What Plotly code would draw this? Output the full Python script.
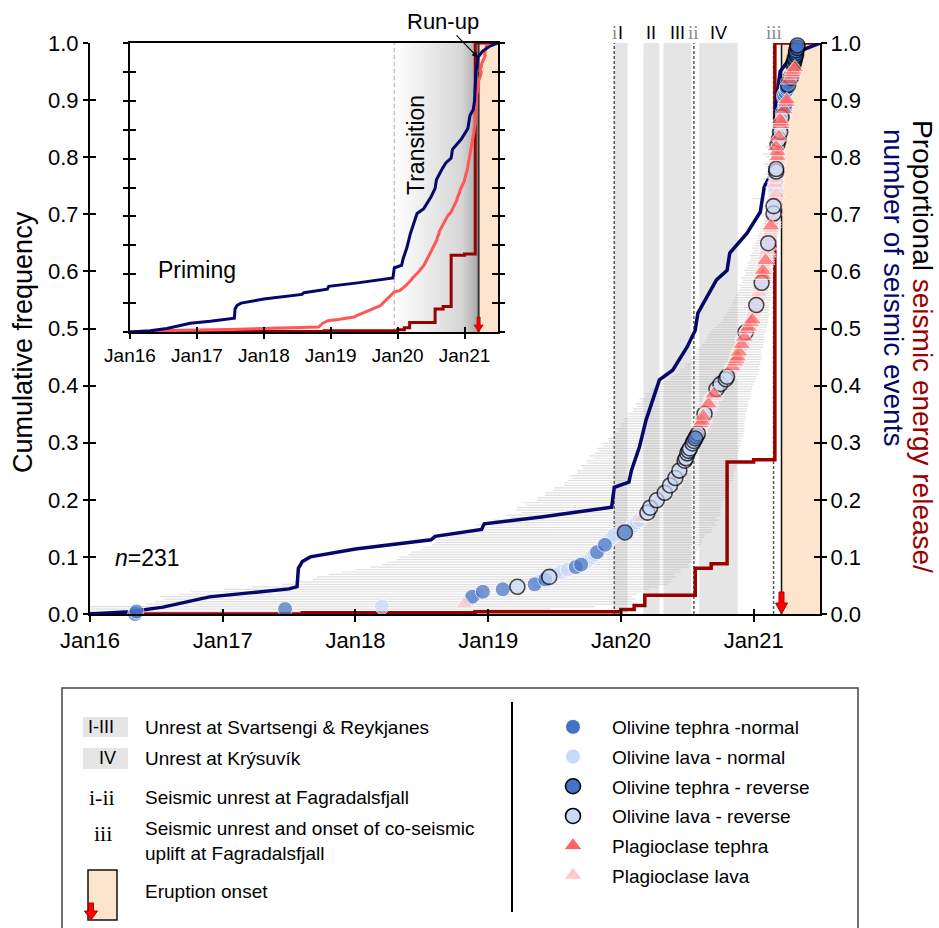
import plotly.graph_objects as go

W, H = 939, 928


def px(v):
    return v / W


def py(v):
    return 1 - v / H


SANS = "Liberation Sans, Arial, sans-serif"
SERIF = "Liberation Serif, Times New Roman, serif"

# ---------------- data ----------------
year_ticks = [2016, 2017, 2018, 2019, 2020, 2021]
year_labels = ["Jan16", "Jan17", "Jan18", "Jan19", "Jan20", "Jan21"]
x_start, x_end = 2016.0, 2021.5
freq_ticks = [0.0, 0.1, 0.2, 0.3, 0.4, 0.5, 0.6, 0.7, 0.8, 0.9, 1.0]

# proportional number of seismic events (navy)
seis_t = [2016.0, 2016.3, 2016.55, 2016.7, 2016.9, 2017.2, 2017.5, 2017.56, 2017.57, 2017.6,
          2017.66, 2018.0, 2018.57, 2018.6, 2018.95, 2018.97, 2019.4, 2019.93, 2019.95, 2020.06,
          2020.08, 2020.14, 2020.19, 2020.29, 2020.39, 2020.5, 2020.56, 2020.58, 2020.66, 2020.72,
          2020.8, 2020.82, 2020.95, 2021.05, 2021.08, 2021.13, 2021.15, 2021.17, 2021.2, 2021.27,
          2021.37, 2021.5]
seis_v = [0.0, 0.004, 0.012, 0.02, 0.03, 0.037, 0.044, 0.048, 0.08, 0.092,
          0.1, 0.114, 0.13, 0.136, 0.148, 0.158, 0.17, 0.187, 0.222, 0.231,
          0.252, 0.293, 0.34, 0.41, 0.427, 0.468, 0.497, 0.527, 0.562, 0.585,
          0.602, 0.632, 0.667, 0.704, 0.748, 0.77, 0.8, 0.9, 0.95, 0.972,
          0.988, 1.0]

# proportional seismic energy release (dark red, step line)
energy_t = [2016.0, 2017.6, 2018.9, 2020.0, 2020.1, 2020.18, 2020.56, 2020.68, 2020.80, 2021.0, 2021.16, 2021.5]
energy_v = [0.0, 0.002, 0.004, 0.008, 0.015, 0.033, 0.080, 0.088, 0.266, 0.270, 1.0, 1.0]

band_names = ["I", "II", "III", "IV"]
band_start = [2019.95, 2020.17, 2020.32, 2020.59]
band_end = [2020.05, 2020.29, 2020.53, 2020.88]
fag_names = ["i", "ii", "iii"]
fag_dates = [2019.95, 2020.55, 2021.15]
eruption = 2021.21
transition_start = 2019.95

# crystal timescale dates (ordered by cumulative frequency)
age = [
    2016.34, 2016.35, 2017.47, 2018.20, 2018.82, 2018.84, 2018.86, 2018.88, 2018.92, 2018.96,
    2019.11, 2019.22, 2019.35, 2019.38, 2019.43, 2019.46, 2019.50, 2019.55, 2019.60, 2019.66,
    2019.70, 2019.74, 2019.76, 2019.78, 2019.80, 2019.82, 2019.84, 2019.86, 2019.88, 2019.90,
    2019.91, 2019.93, 2019.95, 2020.03, 2020.06, 2020.08, 2020.10, 2020.12, 2020.14, 2020.16,
    2020.18, 2020.20, 2020.21, 2020.22, 2020.24, 2020.25, 2020.27, 2020.29, 2020.31, 2020.33,
    2020.34, 2020.36, 2020.37, 2020.39, 2020.40, 2020.41, 2020.42, 2020.43, 2020.44, 2020.45,
    2020.46, 2020.47, 2020.48, 2020.49, 2020.49, 2020.50, 2020.51, 2020.52, 2020.53, 2020.54,
    2020.55, 2020.56, 2020.57, 2020.58, 2020.59, 2020.59, 2020.60, 2020.60, 2020.61, 2020.62,
    2020.62, 2020.63, 2020.64, 2020.65, 2020.66, 2020.66, 2020.67, 2020.68, 2020.69, 2020.70,
    2020.71, 2020.72, 2020.73, 2020.75, 2020.77, 2020.79, 2020.80, 2020.81, 2020.82, 2020.83,
    2020.84, 2020.85, 2020.86, 2020.87, 2020.88, 2020.88, 2020.89, 2020.89, 2020.90, 2020.91,
    2020.92, 2020.92, 2020.93, 2020.93, 2020.94, 2020.95, 2020.96, 2020.97, 2020.98, 2020.99,
    2020.99, 2021.00, 2021.00, 2021.01, 2021.01, 2021.02, 2021.02, 2021.03, 2021.03, 2021.04,
    2021.04, 2021.05, 2021.05, 2021.05, 2021.06, 2021.06, 2021.06, 2021.07, 2021.07, 2021.07,
    2021.08, 2021.08, 2021.08, 2021.09, 2021.09, 2021.09, 2021.10, 2021.10, 2021.10, 2021.11,
    2021.11, 2021.11, 2021.12, 2021.12, 2021.12, 2021.13, 2021.13, 2021.13, 2021.14, 2021.14,
    2021.14, 2021.14, 2021.15, 2021.15, 2021.15, 2021.15, 2021.16, 2021.16, 2021.16, 2021.16,
    2021.17, 2021.16, 2021.16, 2021.16, 2021.16, 2021.17, 2021.17, 2021.17, 2021.17, 2021.17,
    2021.17, 2021.17, 2021.18, 2021.18, 2021.18, 2021.18, 2021.18, 2021.18, 2021.18, 2021.17,
    2021.18, 2021.19, 2021.19, 2021.19, 2021.20, 2021.20, 2021.21, 2021.21, 2021.21, 2021.21,
    2021.20, 2021.21, 2021.22, 2021.22, 2021.23, 2021.24, 2021.24, 2021.25, 2021.25, 2021.23,
    2021.23, 2021.24, 2021.25, 2021.25, 2021.26, 2021.26, 2021.27, 2021.28, 2021.29, 2021.29,
    2021.30, 2021.31, 2021.30, 2021.30, 2021.31, 2021.31, 2021.32, 2021.32, 2021.32, 2021.33,
    2021.33,
]
kind = (
    "tn tn tn ln pl ln ln tn ln tn "
    "tn lr tn ln tn lr ln ln ln tn "
    "tn ln ln ln ln tn ln ln tn ln "
    "ln ln ln tr ln ln ln ln ln pl "
    "ln lr ln lr pl ln lr pl pl lr "
    "pl ln lr pl pl lr pl ln lr pl "
    "pl pl lr lr ln lr lr lr ln lr "
    "lr tr lr lr ln pl ln pt pt pl "
    "pt lr pl ln pl pt pl ln pl pt "
    "pl lr pl lr pl lr lr pl pl ln "
    "pt pl pt pt pt pl pt pl pl pt "
    "pl ln pt pl lr pt pt pl pt pt "
    "pl ln pl pl pl lr pl pl pl ln "
    "pl ln pl pl lr pl pl pt pl pt "
    "pl ln pl pt pl pl pl pl ln pl "
    "lr pl pl ln pl pl pl pt pl pl "
    "pl ln lr pl ln lr pl ln pl pl "
    "pl ln ln ln pl ln pl ln pl lr "
    "lr pl ln pl pl pt ln pt pl pt "
    "lr pl lr pt pl lr pl pl pt pt "
    "pt lr tn tn pt tn tn pt pt tn "
    "tn tn tn tn tr tn pt tr pt pt "
    "pt pt tr tr tr tr tr tr tr tr "
    "tr"
).split()
# uncertainty (years) towards older / younger dates
err_minus = [
    4.90, 4.85, 3.75, 3.00, 2.40, 2.35, 2.30, 2.35, 2.25, 2.20,
    2.10, 2.00, 1.90, 1.85, 1.75, 1.75, 1.70, 1.65, 1.60, 1.55,
    1.50, 1.50, 1.45, 1.45, 1.40, 1.40, 1.35, 1.35, 1.30, 1.30,
    1.30, 1.25, 1.25, 1.20, 1.15, 1.10, 1.20, 1.05, 1.10, 1.00,
    1.05, 0.95, 1.00, 1.00, 0.95, 0.98, 0.90, 0.92, 0.88, 0.90,
    0.85, 0.86, 0.80, 0.82, 0.80, 0.78, 0.80, 0.76, 0.77, 0.74,
    0.76, 0.72, 0.74, 0.70, 0.73, 0.70, 0.68, 0.70, 0.66, 0.68,
    0.64, 0.66, 0.62, 0.64, 0.60, 0.62, 0.60, 0.60, 0.58, 0.60,
    0.57, 0.58, 0.55, 0.56, 0.54, 0.55, 0.52, 0.54, 0.50, 0.52,
    0.48, 0.50, 0.47, 0.46, 0.45, 0.42, 0.42, 0.40, 0.38, 0.38,
    0.36, 0.36, 0.34, 0.34, 0.33, 0.32, 0.32, 0.31, 0.30, 0.30,
    0.29, 0.28, 0.28, 0.27, 0.27, 0.26, 0.25, 0.24, 0.23, 0.22,
    0.22, 0.21, 0.20, 0.20, 0.19, 0.19, 0.18, 0.18, 0.17, 0.17,
    0.16, 0.16, 0.15, 0.16, 0.15, 0.14, 0.15, 0.14, 0.13, 0.14,
    0.13, 0.12, 0.13, 0.12, 0.11, 0.12, 0.11, 0.10, 0.11, 0.10,
    0.10, 0.09, 0.09, 0.09, 0.08, 0.08, 0.08, 0.07, 0.07, 0.07,
    0.06, 0.07, 0.08, 0.06, 0.07, 0.10, 0.06, 0.08, 0.17, 0.06,
    0.08, 0.06, 0.07, 0.06, 0.09, 0.07, 0.10, 0.06, 0.08, 0.07,
    0.06, 0.08, 0.10, 0.06, 0.07, 0.09, 0.11, 0.06, 0.07, 0.08,
    0.06, 0.07, 0.05, 0.08, 0.06, 0.07, 0.05, 0.06, 0.07, 0.05,
    0.06, 0.05, 0.05, 0.06, 0.05, 0.06, 0.05, 0.06, 0.05, 0.04,
    0.05, 0.04, 0.05, 0.04, 0.05, 0.04, 0.05, 0.04, 0.04, 0.04,
    0.04, 0.04, 0.04, 0.04, 0.04, 0.04, 0.04, 0.04, 0.04, 0.04,
    0.04,
]
err_plus = [
    2.60, 2.55, 2.00, 1.60, 1.30, 1.25, 1.25, 1.20, 1.20, 1.20,
    1.10, 1.05, 1.00, 1.00, 0.95, 0.95, 0.90, 0.90, 0.85, 0.85,
    0.80, 0.80, 0.80, 0.78, 0.76, 0.75, 0.74, 0.73, 0.72, 0.71,
    0.70, 0.70, 0.68, 0.65, 0.63, 0.60, 0.62, 0.58, 0.60, 0.55,
    0.57, 0.55, 0.54, 0.53, 0.52, 0.52, 0.50, 0.50, 0.48, 0.48,
    0.47, 0.46, 0.45, 0.44, 0.44, 0.43, 0.43, 0.42, 0.42, 0.41,
    0.41, 0.40, 0.40, 0.39, 0.39, 0.38, 0.38, 0.37, 0.37, 0.36,
    0.36, 0.35, 0.35, 0.34, 0.34, 0.34, 0.33, 0.33, 0.32, 0.32,
    0.32, 0.31, 0.31, 0.30, 0.30, 0.30, 0.29, 0.29, 0.28, 0.28,
    0.27, 0.27, 0.26, 0.25, 0.24, 0.23, 0.22, 0.22, 0.21, 0.21,
    0.20, 0.20, 0.19, 0.19, 0.18, 0.18, 0.17, 0.17, 0.17, 0.16,
    0.16, 0.16, 0.15, 0.15, 0.15, 0.14, 0.14, 0.13, 0.13, 0.12,
    0.12, 0.12, 0.11, 0.11, 0.11, 0.10, 0.10, 0.10, 0.10, 0.09,
    0.09, 0.09, 0.09, 0.09, 0.08, 0.08, 0.08, 0.08, 0.08, 0.07,
    0.07, 0.07, 0.07, 0.07, 0.06, 0.06, 0.06, 0.06, 0.06, 0.05,
    0.05, 0.05, 0.05, 0.05, 0.05, 0.04, 0.04, 0.04, 0.04, 0.04,
    0.04, 0.04, 0.03, 0.03, 0.03, 0.04, 0.03, 0.03, 0.07, 0.03,
    0.03, 0.03, 0.03, 0.03, 0.03, 0.03, 0.03, 0.02, 0.03, 0.02,
    0.02, 0.02, 0.02, 0.02, 0.02, 0.02, 0.02, 0.02, 0.02, 0.02,
    0.02, 0.02, 0.02, 0.02, 0.02, 0.02, 0.02, 0.02, 0.02, 0.02,
    0.02, 0.02, 0.02, 0.02, 0.02, 0.02, 0.02, 0.02, 0.02, 0.02,
    0.02, 0.02, 0.02, 0.02, 0.02, 0.02, 0.02, 0.02, 0.02, 0.02,
    0.02, 0.02, 0.02, 0.02, 0.02, 0.02, 0.02, 0.02, 0.02, 0.02,
    0.02,
]

kind_order = ["tn", "ln", "tr", "lr", "pt", "pl"]
kind_label = {
    "tn": "Olivine tephra -normal",
    "ln": "Olivine lava - normal",
    "tr": "Olivine tephra - reverse",
    "lr": "Olivine lava - reverse",
    "pt": "Plagioclase tephra",
    "pl": "Plagioclase lava",
}

# ---------------- styles ----------------
NAVY = "#06066b"
ENERGY = "#990000"
SALMON = "#ff5757"
PEACH = "#fde4cc"
BAND = "#e5e5e5"
KSTYLE = {  # symbol, fill, edge colour, edge width, size
    "tn": ("circle", "#4472c4", "white", 1.0, 15),
    "ln": ("circle", "#c9daf8", "white", 1.0, 15),
    "tr": ("circle", "#4472c4", "black", 1.6, 15),
    "lr": ("circle", "#c9daf8", "black", 1.6, 15),
    "pt": ("triangle-up", "#ff6464", "white", 1.0, 16),
    "pl": ("triangle-up", "#ffc9c9", "white", 1.0, 16),
}
DRAW_RANK = {"ln": 0, "tn": 1, "pl": 2, "lr": 3, "tr": 4, "pt": 5}

n = len(age)
freq = [i / n for i in range(n)]
order = sorted(range(n), key=lambda i: (DRAW_RANK[kind[i]], i))
ox = [age[i] for i in order]
oy = [freq[i] for i in order]
ok = [kind[i] for i in order]

fig = go.Figure()

# uncertainty bars (main)
fig.add_trace(go.Scatter(
    x=age, y=freq, mode="markers", marker=dict(size=2, opacity=0),
    error_x=dict(type="data", symmetric=False, array=err_plus, arrayminus=err_minus,
                 color="rgba(170,170,170,0.38)", thickness=1.2, width=0),
    showlegend=False, hoverinfo="skip", xaxis="x", yaxis="y"))
# energy release
fig.add_trace(go.Scatter(x=energy_t, y=energy_v, mode="lines",
                         line=dict(color=ENERGY, width=3.5, shape="hv"),
                         showlegend=False, hoverinfo="skip", xaxis="x", yaxis="y"))
# seismic events
fig.add_trace(go.Scatter(x=seis_t, y=seis_v, mode="lines",
                         line=dict(color=NAVY, width=3.5),
                         showlegend=False, hoverinfo="skip", xaxis="x", yaxis="y"))
# crystal dates
fig.add_trace(go.Scatter(
    x=ox, y=oy, mode="markers", cliponaxis=False,
    marker=dict(symbol=[KSTYLE[k][0] for k in ok], color=[KSTYLE[k][1] for k in ok],
                size=[KSTYLE[k][4] for k in ok],
                line=dict(color=[KSTYLE[k][2] for k in ok], width=[KSTYLE[k][3] for k in ok])),
    showlegend=False, hoverinfo="skip", xaxis="x", yaxis="y"))
# legend entries
for k in kind_order:
    s = KSTYLE[k]
    fig.add_trace(go.Scatter(
        x=[None], y=[None], mode="markers", name=kind_label[k], legendgroup=k,
        marker=dict(symbol=s[0], color=s[1], size=s[4], line=dict(color=s[2], width=s[3])),
        xaxis="x", yaxis="y"))

# ---------------- inset traces ----------------
fig.add_trace(go.Scatter(
    x=[transition_start, eruption, eruption, transition_start, transition_start],
    y=[0, 0, 1, 1, 0], mode="lines", fill="toself", line=dict(width=0),
    fillcolor="#d8d8d8",
    fillgradient=dict(type="horizontal",
                      colorscale=[[0, "#ffffff"], [0.8, "#d6d6d6"], [1, "#a8a8a8"]]),
    showlegend=False, hoverinfo="skip", xaxis="x3", yaxis="y4"))
fig.add_trace(go.Scatter(x=[transition_start, transition_start], y=[0, 1], mode="lines",
                         line=dict(color="#c4c4c4", width=1.5, dash="4px,3px"),
                         showlegend=False, hoverinfo="skip", xaxis="x3", yaxis="y4"))
fig.add_trace(go.Scatter(x=[eruption, eruption], y=[0, 1], mode="lines",
                         line=dict(color="#333333", width=2),
                         showlegend=False, hoverinfo="skip", xaxis="x3", yaxis="y4"))
fig.add_trace(go.Scatter(x=energy_t, y=energy_v, mode="lines",
                         line=dict(color=ENERGY, width=3, shape="hv"),
                         showlegend=False, hoverinfo="skip", xaxis="x3", yaxis="y4"))
fig.add_trace(go.Scatter(x=age, y=freq, mode="lines",
                         line=dict(color=SALMON, width=3),
                         showlegend=False, hoverinfo="skip", xaxis="x3", yaxis="y4"))
fig.add_trace(go.Scatter(x=seis_t, y=seis_v, mode="lines",
                         line=dict(color=NAVY, width=3),
                         showlegend=False, hoverinfo="skip", xaxis="x3", yaxis="y4"))

# dummy traces so the companion (crossing-tick) axes are drawn
for xa, ya in [("x2", "y"), ("x", "y2"), ("x", "y3"), ("x4", "y4"), ("x3", "y5")]:
    fig.add_trace(go.Scatter(x=[None], y=[None], mode="markers", xaxis=xa, yaxis=ya,
                             showlegend=False, hoverinfo="skip"))

# ---------------- axes ----------------
AX = dict(showgrid=False, zeroline=False, tickcolor="black", tickwidth=2,
          linecolor="black", linewidth=2, automargin=False)
MAIN_X = [px(90), px(820)]
MAIN_Y = [py(614), py(43)]
INS_X = [px(130), px(498)]
INS_Y = [py(332), py(43)]
TF = dict(size=22, family=SANS, color="black")

layout = dict(
    xaxis=dict(domain=MAIN_X, range=[x_start, x_end], tickvals=year_ticks, ticktext=year_labels,
               ticks="outside", ticklen=6, showline=True, anchor="y", tickfont=TF, **AX),
    xaxis2=dict(domain=MAIN_X, overlaying="x", range=[x_start, x_end], tickvals=year_ticks,
                ticks="inside", ticklen=5, showline=False, showticklabels=False, anchor="y", **AX),
    yaxis=dict(domain=MAIN_Y, range=[0, 1], tickvals=freq_ticks, tickformat=".1f",
               ticks="outside", ticklen=5, showline=True, mirror="ticks", anchor="x",
               tickfont=TF, **AX),
    yaxis2=dict(domain=MAIN_Y, overlaying="y", side="right", range=[0, 1], tickvals=freq_ticks,
                tickformat=".1f", ticks="outside", ticklen=5, showline=False, anchor="x",
                tickfont=TF, **AX),
    yaxis3=dict(domain=MAIN_Y, overlaying="y", range=[0, 1], tickvals=freq_ticks,
                ticks="inside", ticklen=6, mirror="ticks", showline=False,
                showticklabels=False, anchor="x", **AX),
    xaxis3=dict(domain=INS_X, range=[x_start, x_end], tickvals=year_ticks, ticktext=year_labels,
                ticks="outside", ticklen=5, showline=True, mirror=True, anchor="y4",
                tickfont=dict(size=19, family=SANS, color="black"), **AX),
    xaxis4=dict(domain=INS_X, overlaying="x3", range=[x_start, x_end], tickvals=year_ticks,
                ticks="inside", ticklen=5, showline=False, showticklabels=False, anchor="y4", **AX),
    yaxis4=dict(domain=INS_Y, range=[0, 1], tickvals=freq_ticks, ticks="outside", ticklen=5,
                showline=True, mirror="ticks", showticklabels=False, anchor="x3", **AX),
    yaxis5=dict(domain=INS_Y, overlaying="y4", range=[0, 1], tickvals=freq_ticks, ticks="inside",
                ticklen=6, mirror="ticks", showline=False, showticklabels=False, anchor="x3", **AX),
)

# ---------------- shapes ----------------
shapes = []
for s, e in zip(band_start, band_end):
    shapes.append(dict(type="rect", xref="x", yref="y", x0=s, x1=e, y0=0, y1=1,
                       fillcolor=BAND, line=dict(width=0), layer="below"))
shapes.append(dict(type="rect", xref="x", yref="y", x0=eruption, x1=x_end, y0=0, y1=1,
                   fillcolor=PEACH, line=dict(width=0), layer="below"))
for d in fag_dates:
    shapes.append(dict(type="line", xref="x", yref="y", x0=d, x1=d, y0=0, y1=1,
                       line=dict(color="#555555", width=1.5, dash="3px,2px"), layer="below"))
shapes.append(dict(type="line", xref="x", yref="y", x0=eruption, x1=eruption, y0=0, y1=1,
                   line=dict(color="#111111", width=1.5), layer="below"))
shapes.append(dict(type="path", xref="x", yref="y", xsizemode="pixel", ysizemode="pixel",
                   xanchor=eruption, yanchor=0,
                   path="M -2.5 22 L 2.5 22 L 2.5 11 L 6 11 L 0 0 L -6 11 L -2.5 11 Z",
                   fillcolor="#ff0000", line=dict(color="#b00000", width=1), layer="above"))
# inset
shapes.append(dict(type="rect", xref="x3", yref="y4", x0=eruption, x1=x_end, y0=0, y1=1,
                   fillcolor=PEACH, line=dict(width=0), layer="below"))
shapes.append(dict(type="path", xref="x3", yref="y4", xsizemode="pixel", ysizemode="pixel",
                   xanchor=eruption, yanchor=0,
                   path="M -1.5 15 L 1.5 15 L 1.5 7 L 4.5 7 L 0 0 L -4.5 7 L -1.5 7 Z",
                   fillcolor="#ff0000", line=dict(color="#b00000", width=0.8), layer="above"))
# legend frame
shapes.append(dict(type="rect", xref="paper", yref="paper", x0=px(62), x1=px(858),
                   y0=py(940), y1=py(688), line=dict(color="#444444", width=1.5),
                   fillcolor="rgba(0,0,0,0)"))
shapes.append(dict(type="line", xref="paper", yref="paper", x0=px(512), x1=px(512),
                   y0=py(912), y1=py(702), line=dict(color="black", width=2)))
shapes.append(dict(type="rect", xref="paper", yref="paper", x0=px(83), x1=px(128),
                   y0=py(737), y1=py(717), fillcolor=BAND, line=dict(width=0)))
shapes.append(dict(type="rect", xref="paper", yref="paper", x0=px(83), x1=px(128),
                   y0=py(769), y1=py(748), fillcolor=BAND, line=dict(width=0)))
shapes.append(dict(type="rect", xref="paper", yref="paper", x0=px(88), x1=px(117),
                   y0=py(920), y1=py(870), fillcolor=PEACH, line=dict(color="#111111", width=1.5)))
shapes.append(dict(type="path", xref="paper", yref="paper", xsizemode="pixel", ysizemode="pixel",
                   xanchor=px(91), yanchor=py(920),
                   path="M -2.5 17 L 2.5 17 L 2.5 9 L 6.5 9 L 0 0 L -6.5 9 L -2.5 9 Z",
                   fillcolor="#ff0000", line=dict(color="#b00000", width=1)))


# ---------------- annotations ----------------
def txt(x, y, s, size=19, color="black", xanchor="center", family=SANS, angle=0,
        xref="paper", yref="paper", align="left"):
    return dict(x=x, y=y, xref=xref, yref=yref, text=s, showarrow=False, textangle=angle,
                font=dict(size=size, color=color, family=family), xanchor=xanchor,
                yanchor="middle", align=align)


ann = []
for nm, s, e in zip(band_names, band_start, band_end):
    ann.append(txt((s + e) / 2, py(33), nm, size=18, xref="x"))
for nm, d in zip(fag_names, fag_dates):
    ann.append(txt(d, py(33), nm, size=19, color="#8a8a8a", family=SERIF, xref="x"))
ann.append(txt(px(147), py(558), "<i>n</i>=231", size=23))
ann.append(txt(px(197), py(270), "Priming", size=23))
ann.append(txt(px(416), py(145), "Transition", size=23, angle=-90))
ann.append(dict(x=eruption - 0.01, y=0.95, xref="x3", yref="y4", text="Run-up",
                showarrow=True, ax=-35, ay=-36, arrowhead=2, arrowsize=1, arrowwidth=1.2,
                arrowcolor="black", font=dict(size=22, family=SANS, color="black")))
ann.append(txt(px(23), py(342), "Cumulative frequency", size=27, angle=-90))
ann.append(txt(px(922), py(346),
               'Proportional <span style="color:%s">seismic energy release/</span>' % ENERGY,
               size=28, angle=90))
ann.append(txt(px(893), py(287), "number of seismic events", size=28, color=NAVY, angle=90))
# legend (left column)
ann.append(txt(px(101), py(727), "I-III", size=18))
ann.append(txt(px(107), py(758), "IV", size=18))
ann.append(txt(px(102), py(797), "i-ii", size=22, family=SERIF))
ann.append(txt(px(103), py(833), "iii", size=22, family=SERIF))
ann.append(txt(px(143), py(727), "Unrest at Svartsengi &amp; Reykjanes", xanchor="left"))
ann.append(txt(px(143), py(758), "Unrest at Krýsuvík", xanchor="left"))
ann.append(txt(px(143), py(797), "Seismic unrest at Fagradalsfjall", xanchor="left"))
ann.append(txt(px(143), py(841), "Seismic unrest and onset of co-seismic<br>uplift at Fagradalsfjall",
               xanchor="left"))
ann.append(txt(px(143), py(891), "Eruption onset", xanchor="left"))

fig.update_layout(
    width=W, height=H, margin=dict(l=0, r=0, t=0, b=0, autoexpand=False),
    paper_bgcolor="white", plot_bgcolor="white",
    font=dict(family=SANS, color="black"),
    shapes=shapes, annotations=ann, showlegend=True,
    legend=dict(x=px(534), y=py(708), xanchor="left", yanchor="top",
                font=dict(size=19, family=SANS, color="black"), itemwidth=68,
                tracegroupgap=2, bgcolor="rgba(0,0,0,0)", borderwidth=0, traceorder="grouped"),
    **layout,
)

fig.write_html("out.html")
